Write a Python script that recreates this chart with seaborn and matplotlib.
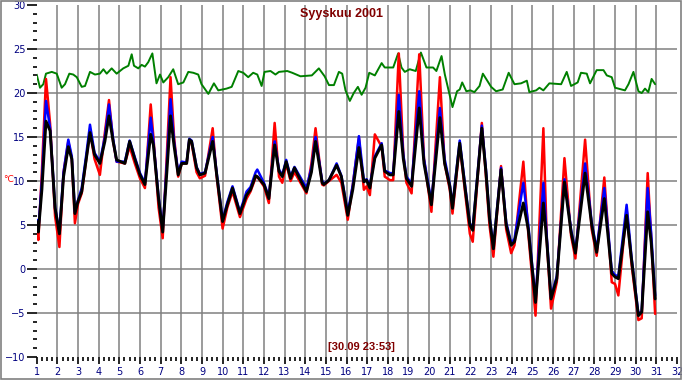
import numpy as np
import pandas as pd
import matplotlib
matplotlib.use('Agg')
import matplotlib.pyplot as plt
import seaborn as sns
from matplotlib.ticker import MultipleLocator
from matplotlib.patches import Rectangle

# outdoor sensors: time (day of month), black / blue / red series
t_out = [1.00, 1.08, 1.25, 1.45, 1.65, 1.89, 2.10, 2.30, 2.53, 2.70, 2.85, 3.00, 3.18, 3.40, 3.58,
         3.80, 4.06, 4.30, 4.50, 4.70, 4.87, 5.27, 5.50, 5.75, 6.00, 6.24, 6.52, 6.65, 6.90, 7.10,
         7.30, 7.48, 7.65, 7.85, 8.02, 8.26, 8.39, 8.50, 8.74, 8.90, 9.15, 9.52, 9.70, 10.00, 10.23,
         10.48, 10.84, 11.16, 11.35, 11.60, 11.68, 12.00, 12.24, 12.52, 12.73, 12.89, 13.08, 13.29,
         13.48, 13.77, 14.06, 14.30, 14.50, 14.82, 14.90, 15.15, 15.52, 15.75, 16.06, 16.30, 16.60,
         16.84, 16.97, 17.13, 17.37, 17.70, 17.85, 18.10, 18.26, 18.53, 18.75, 18.90, 19.15, 19.52,
         19.75, 20.11, 20.52, 20.75, 21.00, 21.13, 21.48, 21.75, 21.97, 22.11, 22.55, 22.75, 22.92,
         23.11, 23.48, 23.73, 23.97, 24.13, 24.56, 24.80, 25.15, 25.53, 25.70, 25.90, 26.18, 26.55,
         26.87, 27.08, 27.55, 27.87, 28.11, 28.48, 28.84, 29.00, 29.16, 29.56, 29.80, 30.13, 30.29,
         30.58, 30.75, 30.94]
black = [5.4, 4.2, 9.0, 16.8, 15.7, 6.9, 4.0, 10.5, 13.9, 12.5, 6.3, 7.7, 8.8, 12.5, 15.5,
         13.0, 12.0, 14.5, 17.4, 14.5, 12.4, 12.0, 14.5, 12.5, 10.7, 9.6, 15.3, 14.1, 8.0, 4.2,
         11.0, 17.4, 14.0, 10.7, 12.0, 12.0, 14.7, 14.5, 11.5, 10.7, 10.9, 14.5, 11.0, 5.4, 7.3,
         9.2, 6.3, 8.4, 9.0, 10.6, 10.5, 9.6, 8.0, 14.1, 11.1, 10.5, 12.2, 10.3,
         11.5, 10.1, 8.8, 11.0, 14.5, 9.8, 9.6, 10.1, 11.8, 10.5, 6.1, 9.0, 13.8,
         9.9, 10.1, 9.2, 12.6, 14.1, 11.1, 10.7, 10.7, 17.9, 12.5, 10.3, 9.4, 18.3,
         12.0, 7.3, 17.2, 12.0, 9.4, 6.9, 14.3, 9.0, 5.0, 4.4, 16.0, 11.0, 5.8,
         2.3, 11.3, 5.0, 2.7, 3.1, 7.5, 4.5, -3.8, 7.5, 3.0, -3.4, -1.1, 9.9,
         4.2, 1.8, 10.9, 5.0, 1.9, 8.0, -0.5, -0.9, -1.1, 6.1, 1.0, -5.3, -4.9,
         6.5, 3.0, -3.4]
blue = [5.6, 4.4, 10.0, 19.1, 16.0, 7.0, 4.3, 11.0, 14.7, 12.8, 6.5, 7.8, 9.2, 13.0, 16.4,
        13.2, 12.2, 15.0, 18.7, 14.8, 12.2, 12.2, 14.6, 12.7, 10.9, 9.8, 17.2, 14.5, 8.2, 4.5,
        12.0, 19.3, 14.5, 11.0, 12.2, 12.1, 14.8, 14.6, 11.6, 10.8, 11.0, 15.0, 11.2, 5.6, 7.6,
        9.4, 6.5, 8.8, 9.3, 11.0, 11.3, 9.8, 8.2, 14.5, 11.3, 10.7, 12.4, 10.5,
        11.6, 10.4, 9.2, 11.5, 15.0, 10.0, 9.7, 10.1, 12.0, 10.6, 6.4, 9.5, 15.1,
        10.0, 10.2, 9.5, 12.8, 14.3, 11.2, 10.9, 10.9, 19.8, 13.0, 10.5, 9.7, 20.2,
        12.5, 7.6, 18.3, 12.5, 9.6, 7.2, 14.6, 9.3, 5.2, 4.6, 16.3, 11.3, 6.0,
        2.6, 11.5, 5.3, 3.0, 3.4, 9.8, 5.0, -3.5, 9.8, 3.5, -3.2, -0.8, 10.2,
        4.5, 2.0, 12.0, 5.3, 2.2, 9.2, -0.2, -0.7, -0.8, 7.3, 1.3, -5.1, -4.8,
        9.2, 4.0, -3.0]
red = [4.6, 3.3, 11.0, 21.6, 16.5, 6.0, 2.5, 11.0, 14.5, 12.5, 5.2, 7.4, 8.6, 12.5, 15.7,
       12.5, 10.7, 15.5, 19.2, 14.5, 12.2, 12.0, 13.9, 12.0, 10.3, 9.2, 18.7, 15.0, 7.0, 3.5,
       13.0, 21.8, 15.0, 10.5, 12.0, 12.0, 14.6, 14.3, 11.0, 10.3, 10.6, 16.0, 10.8, 4.6, 7.0,
       8.8, 5.9, 8.0, 8.8, 10.4, 10.5, 9.4, 7.5, 16.6, 10.5, 9.8, 12.0, 10.0,
       11.0, 9.8, 8.6, 12.0, 16.0, 9.6, 9.5, 10.0, 10.7, 9.8, 5.6, 9.5, 14.9,
       9.0, 9.4, 8.4, 15.3, 13.9, 10.5, 10.1, 10.1, 24.5, 13.0, 9.8, 8.6, 24.4,
       12.5, 6.5, 21.8, 12.0, 9.0, 6.3, 14.1, 8.5, 4.0, 3.1, 16.6, 10.5, 5.0,
       1.4, 11.7, 4.5, 1.8, 2.7, 12.2, 4.0, -5.3, 16.0, 3.0, -4.5, -1.5, 12.6,
       3.8, 1.2, 14.7, 4.5, 1.5, 10.4, -1.5, -1.7, -3.0, 6.8, 0.5, -5.8, -5.6,
       10.9, 3.5, -5.1]

# indoor sensor
t_in = [1.00, 1.16, 1.32, 1.45, 1.73, 1.97, 2.21, 2.37, 2.58, 2.77, 2.94, 3.18, 3.34, 3.58, 3.82,
        4.06, 4.23, 4.39, 4.63, 4.87, 5.19, 5.44, 5.60, 5.71, 5.92, 6.08, 6.24, 6.40, 6.60, 6.80,
        6.97, 7.13, 7.37, 7.61, 7.85, 8.10, 8.34, 8.58, 8.82, 8.98, 9.31, 9.58, 9.79, 10.19, 10.44,
        10.76, 11.00, 11.24, 11.48, 11.68, 11.89, 12.03, 12.32, 12.56, 12.73, 13.13, 13.37, 13.77,
        14.32, 14.66, 14.94, 15.15, 15.39, 15.63, 15.79, 15.95, 16.16, 16.35, 16.55, 16.73, 16.92,
        17.10, 17.37, 17.70, 17.85, 18.26, 18.50, 18.66, 18.82, 19.06, 19.35, 19.60, 19.87, 20.19,
        20.35, 20.60, 20.76, 20.97, 21.13, 21.35, 21.48, 21.60, 21.80, 22.00, 22.19, 22.44, 22.60,
        22.76, 23.00, 23.24, 23.56, 23.85, 24.13, 24.45, 24.73, 24.85, 25.18, 25.34, 25.53, 25.82,
        26.39, 26.66, 26.87, 27.19, 27.35, 27.63, 27.79, 28.11, 28.44, 28.60, 28.84, 29.00, 29.32,
        29.48, 29.65, 29.89, 30.13, 30.29, 30.45, 30.61, 30.77, 30.94]
green = [22.1, 20.6, 21.0, 22.2, 22.4, 22.2, 20.6, 21.0, 22.2, 22.1, 21.8, 20.7, 20.8, 22.4, 22.1,
         22.2, 22.7, 22.2, 22.8, 22.2, 22.8, 23.1, 24.4, 23.1, 22.8, 23.2, 23.0, 23.5, 24.5, 21.1,
         22.1, 21.2, 21.8, 22.7, 21.0, 21.2, 22.4, 22.3, 22.1, 21.0, 19.9, 21.1, 20.3, 20.5, 20.7,
         22.5, 22.3, 21.8, 22.3, 22.1, 20.8, 22.4, 22.5, 22.1, 22.4, 22.5, 22.3, 21.9,
         22.0, 22.8, 21.9, 20.9, 20.9, 22.4, 22.2, 20.3, 19.1, 20.0, 20.7, 19.8, 20.6,
         22.3, 22.0, 23.4, 22.9, 22.9, 24.5, 22.9, 22.4, 22.7, 22.5, 24.6, 22.9, 22.9,
         22.5, 24.2, 22.1, 20.0, 18.4, 20.2, 20.4, 21.2, 20.2, 20.3, 20.1, 20.8, 22.2,
         21.6, 20.7, 20.2, 20.4, 22.3, 21.0, 21.1, 21.4, 20.1, 20.3, 20.6, 20.3, 21.1,
         21.0, 22.4, 20.8, 21.2, 22.3, 22.2, 21.1, 22.6, 22.6, 22.0, 21.8, 20.6, 20.4,
         20.3, 21.0, 22.4, 20.2, 20.0, 20.5, 20.1, 21.6, 21.0]

title = 'Syyskuu 2001'
stamp = '[30.09 23:53]'

sns.set_style('ticks')
plt.rcParams['font.family'] = ['DejaVu Sans']

fig = plt.figure(figsize=(6.82, 3.80), dpi=100)
ax = fig.add_axes([0.0538, 0.0605, 0.9389, 0.9263])

grid_c = '#808080'
sns.lineplot(x=t_in, y=green, color='#008000', linewidth=1.4, ax=ax, sort=False)
sns.lineplot(x=t_out, y=red, color='#ff0000', linewidth=1.8, ax=ax, sort=False)
sns.lineplot(x=t_out, y=blue, color='#0000ff', linewidth=1.8, ax=ax, sort=False)
sns.lineplot(x=t_out, y=black, color='#000000', linewidth=2.1, ax=ax, sort=False)

ax.set_xlim(1, 32)
ax.set_ylim(-10, 30)

# grid lines (not at the outer limits)
for d in range(2, 32):
    ax.axvline(d, color=grid_c, linewidth=1.1, zorder=0)
for v in range(-5, 30, 5):
    ax.axhline(v, color=grid_c, linewidth=1.1, zorder=0)

for s in ax.spines.values():
    s.set_color('none')

ax.xaxis.set_major_locator(MultipleLocator(1))
ax.xaxis.set_minor_locator(MultipleLocator(0.25))
ax.yaxis.set_major_locator(MultipleLocator(5))
ax.yaxis.set_minor_locator(MultipleLocator(1))
ax.tick_params(axis='x', which='both', bottom=True, top=False, direction='out')
ax.tick_params(axis='y', which='both', left=True, right=False, direction='out')
ax.tick_params(axis='both', which='major', color='#000000', width=1.2,
               labelsize=7, labelcolor='#000080', length=5, pad=2)
ax.tick_params(axis='y', which='major', length=7, pad=1)
ax.tick_params(axis='both', which='minor', color='#000000', width=1.2, length=3)
ax.set_xlabel('')
ax.set_ylabel('')

fig.text(0.5, 0.963, title, color='#800000', fontsize=9, fontweight='bold',
         ha='center', va='center', family='Liberation Sans')
fig.text(0.530, 0.087, stamp, color='#800000', fontsize=8, fontweight='bold',
         ha='center', va='center', family='Liberation Sans')
fig.text(0.004, 0.527, '°C', color='#ff0000', fontsize=6.5, ha='left', va='center')

fig.patches.append(Rectangle((0.001, 0.002), 0.997, 0.995, transform=fig.transFigure,
                             fill=False, edgecolor='#808080', linewidth=1.2))

fig.savefig('out.png', dpi=100)
